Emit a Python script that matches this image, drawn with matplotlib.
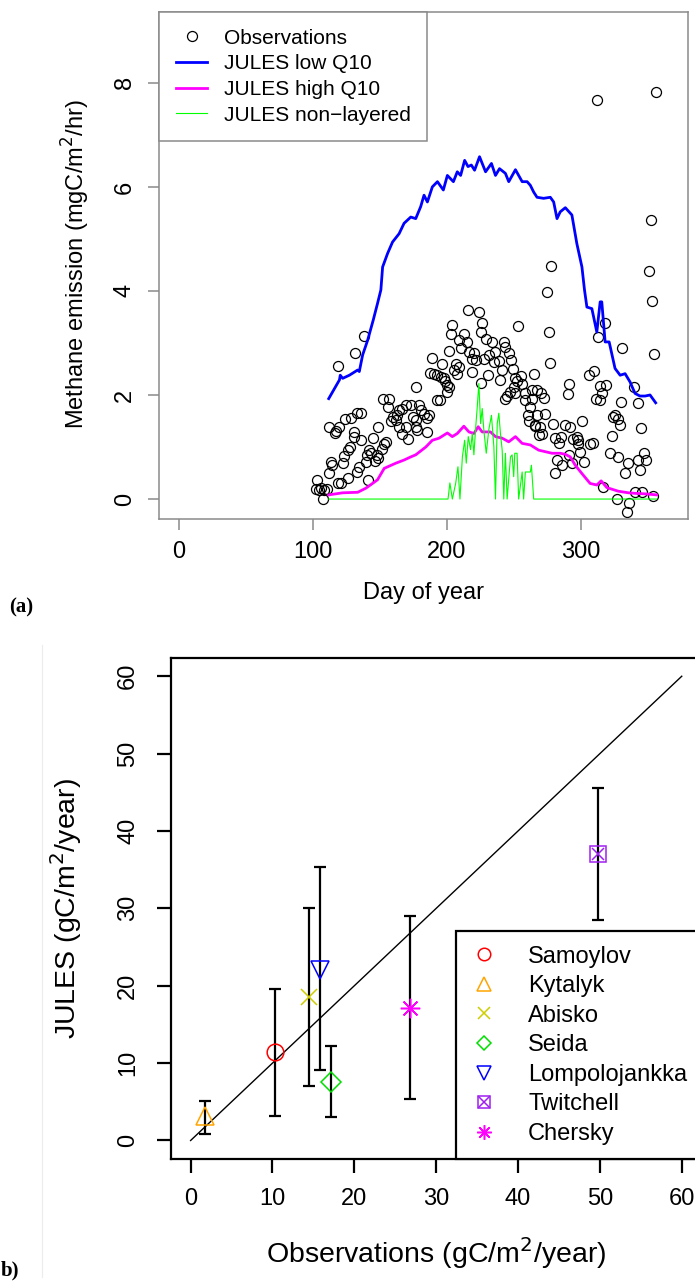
import numpy as np
import matplotlib.pyplot as plt
from matplotlib.lines import Line2D
from matplotlib.legend_handler import HandlerTuple

plt.rcParams['font.family'] = ['Liberation Sans', 'DejaVu Sans']

# (a) observations: day of year and methane emission (mgC/m2/hr)
obs_day = [118.5, 131.6, 137.8, 176.7, 152.0, 157.0, 155.7, 135.8, 132.9, 128.4,
           124.2, 119.7, 111.8, 116.7, 117.5, 130.4, 130.9, 135.8, 148.5, 144.5,
           127.7, 126.0, 123.4, 122.2, 113.5, 114.3, 112.3, 102.9, 104.4, 106.1,
           108.6, 110.3, 107.8, 102.4, 118.5, 121.0, 126.0, 132.9, 134.6, 139.6,
           140.8, 140.0, 143.3, 142.1, 147.5, 148.2, 146.5, 151.4, 153.2, 154.4,
           159.4, 161.9, 164.3, 166.8, 169.3, 173.0, 174.3, 169.3, 166.8, 171.3,
           164.3, 176.7, 158.5, 162.5,
           215.9, 223.8, 226.3, 204.0, 202.8, 212.6, 209.0, 215.2, 225.1, 228.8,
           233.8, 242.4, 243.1, 253.1, 210.2, 216.4, 220.1, 201.6, 218.9, 221.3,
           227.5, 231.2, 236.2, 238.7, 235.0, 246.1, 248.1, 188.6, 196.1, 206.5,
           209.0, 205.3, 207.7, 218.9, 187.4, 190.3, 192.9, 195.3, 197.8, 198.5,
           200.3, 201.5, 199.8, 225.1, 230.8, 239.9, 241.2, 249.1, 250.6, 252.3,
           255.5, 256.1, 249.8, 247.4, 244.9, 251.1, 243.1, 258.5, 258.5, 263.5,
           264.7, 263.5, 262.2, 260.5, 261.0, 265.4, 268.4, 192.9, 194.5, 179.2,
           180.4, 182.9, 186.6, 185.4, 176.7, 185.4, 178.0,
           352.7, 354.7, 318.0, 313.0, 330.9, 275.8, 276.6, 274.6, 305.6, 310.0,
           290.7, 290.0, 314.3, 318.5, 315.5, 311.3, 314.3, 339.8, 329.9, 342.3,
           267.2, 270.4, 272.1, 273.4, 267.2, 266.0, 269.7, 270.9, 278.8, 287.7,
           292.0, 301.1, 285.3, 280.3, 283.3, 294.4, 296.9, 298.1, 297.7, 299.4,
           306.8, 308.6, 324.2, 325.4, 327.9, 329.2, 323.0, 344.8, 321.7, 347.2,
           327.9, 334.9, 342.8, 348.5, 332.9, 344.0, 290.7, 282.1, 285.8, 280.8,
           293.2, 302.6, 316.7, 340.3, 345.7, 353.9, 326.7, 335.8, 334.1,
           311.8, 355.7, 352.0, 350.9, 277.8]
obs_val = [2.56, 2.81, 3.14, 2.16, 1.92, 1.92, 1.77, 1.66, 1.65, 1.56,
           1.53, 1.39, 1.38, 1.27, 1.31, 1.29, 1.20, 1.13, 1.39, 1.18,
           1.00, 0.94, 0.83, 0.69, 0.71, 0.65, 0.51, 0.37, 0.17, 0.21,
           0.17, 0.19, 0.00, 0.19, 0.31, 0.30, 0.41, 0.52, 0.62, 0.72,
           0.37, 0.85, 0.88, 0.95, 0.85, 0.78, 0.74, 0.97, 1.06, 1.10,
           1.58, 1.52, 1.71, 1.74, 1.81, 1.81, 1.58, 1.39, 1.25, 1.15,
           1.39, 1.39, 1.50, 1.62,
           3.63, 3.59, 3.39, 3.34, 3.17, 3.18, 3.05, 3.02, 3.21, 3.07,
           3.02, 3.02, 2.93, 3.32, 2.91, 2.83, 2.80, 2.85, 2.70, 2.67,
           2.70, 2.77, 2.83, 2.66, 2.64, 2.80, 2.68, 2.72, 2.59, 2.59,
           2.54, 2.48, 2.41, 2.45, 2.43, 2.41, 2.38, 2.35, 2.32, 2.27,
           2.19, 2.15, 2.05, 2.24, 2.38, 2.29, 2.48, 2.50, 2.32, 2.27,
           2.36, 2.22, 2.16, 2.06, 1.98, 2.03, 1.93, 2.03, 1.90, 2.09,
           2.41, 1.92, 1.77, 1.61, 1.50, 1.40, 1.23, 1.90, 1.90, 1.81,
           1.71, 1.63, 1.61, 1.55, 1.52, 1.29, 1.33,
           3.81, 2.78, 3.39, 3.12, 2.91, 3.21, 2.61, 3.98, 2.38, 2.46,
           2.21, 2.02, 2.17, 2.19, 2.03, 1.92, 1.90, 2.16, 1.87, 1.85,
           2.09, 2.03, 1.95, 1.63, 1.61, 1.42, 1.39, 1.25, 1.44, 1.42,
           1.39, 1.50, 1.20, 1.18, 1.08, 1.15, 1.19, 1.13, 1.06, 0.91,
           1.06, 1.08, 1.58, 1.61, 1.53, 1.42, 1.21, 1.36, 0.89, 0.89,
           0.81, 0.69, 0.75, 0.76, 0.51, 0.56, 0.85, 0.75, 0.65, 0.51,
           0.69, 0.72, 0.24, 0.14, 0.14, 0.06, 0.00, -0.08, -0.24,
           7.67, 7.82, 5.36, 4.39, 4.48]

# JULES low Q10
low_day = [111.8, 119.8, 120.4, 122.2, 127.2, 133.4, 134.6, 137.1, 140.8, 145.0,
           148.2, 150.7, 152.0, 155.7, 159.4, 164.3, 168.0, 173.0, 176.7, 180.4,
           182.9, 185.4, 189.1, 192.9, 197.3, 200.3, 204.8, 207.7, 210.2, 213.2,
           215.7, 218.2, 220.6, 224.3, 228.8, 233.2, 236.2, 239.2, 243.6, 246.1,
           251.1, 256.1, 259.8, 262.2, 264.7, 267.2, 272.1, 277.1, 279.6, 282.1,
           284.5, 288.3, 293.2, 296.9, 300.7, 302.6, 304.4, 308.1, 311.8, 314.3,
           315.5, 318.0, 321.0, 325.4, 329.2, 332.9, 336.6, 340.3, 344.0, 347.8,
           351.5, 355.7]
low_val = [1.93, 2.29, 2.38, 2.32, 2.38, 2.48, 2.45, 2.77, 3.05, 3.44,
           3.76, 4.02, 4.46, 4.72, 4.94, 5.10, 5.30, 5.42, 5.39, 5.62,
           5.84, 5.71, 6.00, 6.10, 5.94, 6.22, 6.10, 6.29, 6.22, 6.51,
           6.39, 6.42, 6.32, 6.58, 6.29, 6.45, 6.22, 6.35, 6.26, 6.10,
           6.33, 6.10, 6.10, 6.03, 5.90, 5.80, 5.78, 5.80, 5.71, 5.39,
           5.52, 5.60, 5.46, 4.91, 4.46, 4.02, 3.69, 3.66, 3.21, 3.79,
           3.79, 3.02, 3.02, 2.51, 2.38, 2.41, 2.25, 2.03, 1.98, 1.98,
           2.00, 1.85]

# JULES high Q10
high_day = [111.8, 122.2, 133.4, 139.6, 148.2, 153.2, 161.9, 168.0, 173.0, 176.7,
            184.2, 189.1, 194.1, 200.3, 204.0, 207.7, 212.6, 216.4, 220.1, 223.3,
            226.3, 232.5, 236.2, 241.2, 246.1, 251.1, 256.1, 262.2, 268.4, 278.4,
            284.5, 288.3, 292.0, 295.7, 300.7, 306.8, 311.8, 315.0, 319.3, 327.9,
            335.4, 340.3, 347.8, 356.4]
high_val = [0.08, 0.12, 0.13, 0.21, 0.37, 0.59, 0.69, 0.75, 0.81, 0.85,
            1.00, 1.13, 1.17, 1.27, 1.20, 1.26, 1.40, 1.29, 1.26, 1.39,
            1.29, 1.29, 1.20, 1.17, 1.10, 1.20, 1.07, 1.04, 0.94, 0.88,
            0.88, 0.86, 0.81, 0.65, 0.49, 0.30, 0.27, 0.35, 0.22, 0.15,
            0.12, 0.11, 0.10, 0.08]

# JULES non-layered
nl_day = [111.8, 200.8, 202.2, 204.0, 206.5, 208.2, 209.7, 211.5, 213.2, 214.4,
          215.9, 217.6, 218.9, 220.1, 221.3, 222.6, 223.8, 225.1, 226.3, 227.5,
          229.3, 231.2, 233.2, 235.0, 236.2, 237.5, 238.7, 239.9, 241.2, 242.4,
          243.6, 244.9, 247.4, 248.6, 249.8, 250.6, 252.3, 253.5, 256.1, 257.2,
          258.5, 262.2, 263.0, 264.7, 356.4]
nl_val = [0.0, 0.0, 0.31, 0.0, 0.30, 0.62, 0.0, 0.81, 1.13, 0.69,
          1.20, 0.95, 1.26, 0.85, 1.33, 1.77, 2.22, 1.45, 1.74, 1.33,
          0.88, 1.33, 1.61, 1.00, 0.0, 1.45, 1.65, 1.26, 0.94, 0.0,
          0.88, 0.0, 0.81, 0.85, 0.43, 0.88, 0.88, 0.0, 0.52, 0.0,
          0.52, 0.52, 0.65, 0.0, 0.0]

# (b) annual totals (gC/m2/year)
sites = ['Samoylov', 'Kytalyk', 'Abisko', 'Seida', 'Lompolojankka', 'Twitchell', 'Chersky']
obs_tot = [10.3, 1.8, 14.5, 17.1, 15.8, 49.8, 26.8]
jules_tot = [11.5, 3.2, 18.5, 7.6, 22.0, 37.0, 17.1]
jules_lo = [3.2, 0.8, 7.1, 3.0, 9.1, 28.5, 5.4]
jules_hi = [19.6, 5.1, 30.0, 12.2, 35.3, 45.6, 29.0]
site_colors = ['#FF0000', '#FFA500', '#CDCD00', '#00DD00', '#0000FF', '#A020F0', '#FF00FF']

fig = plt.figure(figsize=(6.95, 12.83), dpi=100)
gray = '#8a8a8a'

# ---------- panel (a) ----------
ax1 = fig.add_axes([0.2292, 0.5957, 0.7603, 0.3949])
ax1.plot(obs_day, obs_val, 'o', mfc='none', mec='black', ms=7.2, mew=0.9,
         label='Observations')
ax1.plot(low_day, low_val, color='#0000FF', lw=2.0, label='JULES low Q10')
ax1.plot(high_day, high_val, color='#FF00FF', lw=2.0, label='JULES high Q10')
ax1.plot(nl_day, nl_val, color='#00FF00', lw=0.8, label='JULES non\u2212layered')
ax1.set_xlim(-14.6, 379.6)
ax1.set_ylim(-0.378, 9.36)
ax1.set_xticks([0, 100, 200, 300])
ax1.set_yticks([0, 2, 4, 6, 8])
for s in ax1.spines.values():
    s.set_color(gray)
    s.set_linewidth(1.1)
ax1.tick_params(length=8, width=1.1, color=gray, labelsize=17, pad=8)
ax1.tick_params(axis='y', pad=9)
plt.setp(ax1.get_yticklabels(), rotation=90, va='center')
ax1.set_xlabel('Day of year', fontsize=17, va='center')
ax1.set_ylabel('Methane emission (mgC/m$^2$/hr)', fontsize=17, va='center')
ax1.xaxis.set_label_coords(0.5, -0.1466)
ax1.yaxis.set_label_coords(-0.1575, 0.503)
leg1 = ax1.legend(loc='upper left', borderaxespad=0, fontsize=15, fancybox=False,
                  framealpha=1, edgecolor=gray, handlelength=1.5, handletextpad=0.8,
                  labelspacing=0.32, borderpad=0.8)
leg1.get_frame().set_linewidth(1.1)

# ---------- panel (b) ----------
ax2 = fig.add_axes([0.2460, 0.0966, 0.7632, 0.3908])
ax2.plot([0, 60], [0, 60], color='black', lw=1.0)
handles = []
for i, name in enumerate(sites):
    ax2.errorbar(obs_tot[i], jules_tot[i],
                 yerr=[[jules_tot[i] - jules_lo[i]], [jules_hi[i] - jules_tot[i]]],
                 fmt='none', ecolor='black', elinewidth=1.6, capsize=4.5, capthick=1.6)
    c = site_colors[i]
    if name == 'Twitchell':
        h1, = ax2.plot(obs_tot[i], jules_tot[i], 's', mfc='none', mec=c, ms=11, mew=1.1)
        h2, = ax2.plot(obs_tot[i], jules_tot[i], 'x', mec=c, ms=9, mew=1.1)
        handles.append((h1, h2))
    elif name == 'Chersky':
        h, = ax2.plot(obs_tot[i], jules_tot[i], marker=(8, 2, 0), ls='none', mec=c, ms=14, mew=1.1)
        handles.append(h)
    else:
        mk = {'Samoylov': 'o', 'Kytalyk': '^', 'Abisko': 'x', 'Seida': 'D', 'Lompolojankka': 'v'}[name]
        ms = {'o': 12, '^': 13, 'x': 12, 'D': 10, 'v': 13}[mk]
        h, = ax2.plot(obs_tot[i], jules_tot[i], mk, mfc='none', mec=c, ms=ms, mew=1.1)
        handles.append(h)
ax2.set_xlim(-2.4, 62.4)
ax2.set_ylim(-2.4, 62.4)
ax2.set_xticks(range(0, 61, 10))
ax2.set_yticks(range(0, 61, 10))
for s in ax2.spines.values():
    s.set_linewidth(1.6)
ax2.tick_params(length=10, width=1.6, labelsize=17, pad=11)
ax2.tick_params(axis='y', pad=13)
plt.setp(ax2.get_yticklabels(), rotation=90, va='center')
ax2.set_xlabel('Observations (gC/m$^2$/year)', fontsize=20.5, va='center')
ax2.set_ylabel('JULES (gC/m$^2$/year)', fontsize=20.5, va='center')
ax2.xaxis.set_label_coords(0.5, -0.187)
ax2.yaxis.set_label_coords(-0.197, 0.5)
leg2 = ax2.legend(handles, sites, loc='lower right', borderaxespad=0, fontsize=17,
                  fancybox=False, framealpha=1, edgecolor='black', handlelength=1.2,
                  handletextpad=1.27, labelspacing=0.32, borderpad=0.6,
                  handler_map={tuple: HandlerTuple(ndivide=1, pad=0)})
leg2.get_frame().set_linewidth(1.6)
for h in leg2.legend_handles:
    if hasattr(h, 'set_markersize'):
        h.set_markersize(h.get_markersize() * 0.75)

# panel letters and faint margin line
fig.text(21 / 695, 1 - 607 / 1283, '(a)', fontsize=15, fontweight='bold',
         family='Liberation Serif', ha='center', va='center')
fig.text(1 / 695, 1 - 1270 / 1283, 'b)', fontsize=15, fontweight='bold',
         family='Liberation Serif', ha='left', va='center')
fig.add_artist(Line2D([41.7 / 695, 41.7 / 695], [1 - 645 / 1283, 1 - 1277 / 1283],
                      color='#ececec', lw=0.8, transform=fig.transFigure))

fig.savefig('out.png', dpi=100)
